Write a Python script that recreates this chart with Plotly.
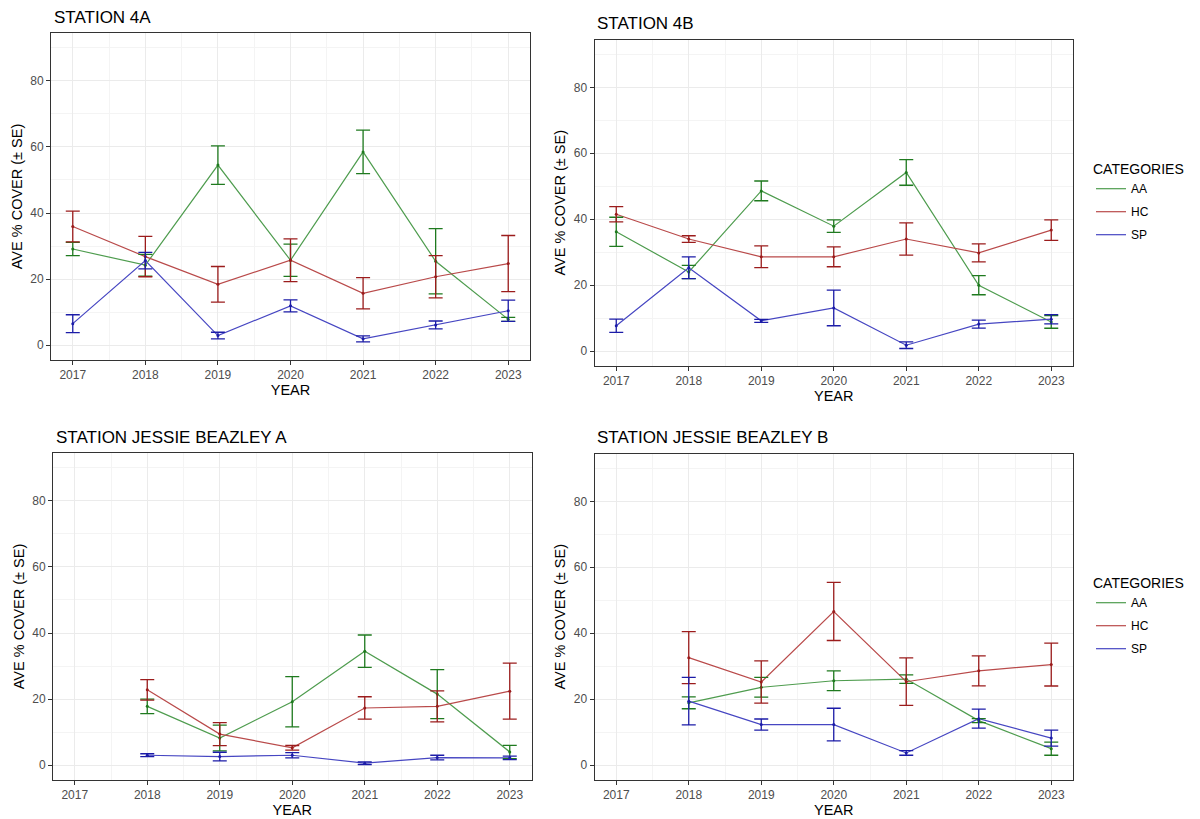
import plotly.graph_objects as go

# ---- data: mean % cover and standard error per category ----
years_4 = [2017, 2018, 2019, 2020, 2021, 2022, 2023]
years_jb = [2018, 2019, 2020, 2021, 2022, 2023]
categories = ["AA", "HC", "SP"]
station_titles = ["STATION 4A", "STATION 4B",
                  "STATION JESSIE BEAZLEY A", "STATION JESSIE BEAZLEY B"]

# Station 4A
aa_4a = [29.1, 24.2, 54.5, 25.7, 58.5, 25.4, 7.8]
aa_4a_se = [2.0, 3.3, 5.8, 4.9, 6.6, 9.9, 0.6]
hc_4a = [35.9, 26.8, 18.4, 25.7, 15.7, 20.7, 24.7]
hc_4a_se = [4.65, 6.1, 5.4, 6.5, 4.75, 6.4, 8.5]
sp_4a = [6.5, 25.6, 2.9, 11.9, 1.9, 6.1, 10.4]
sp_4a_se = [2.7, 2.5, 1.0, 1.8, 0.9, 1.2, 3.2]

# Station 4B
aa_4b = [36.2, 24.0, 48.6, 37.9, 54.2, 20.0, 8.85]
aa_4b_se = [4.4, 2.0, 3.0, 1.9, 3.9, 2.9, 1.9]
hc_4b = [41.5, 34.0, 28.6, 28.6, 34.0, 29.8, 36.7]
hc_4b_se = [2.3, 1.0, 3.3, 3.0, 4.9, 2.7, 3.1]
sp_4b = [7.7, 25.3, 9.2, 13.1, 1.8, 8.2, 9.7]
sp_4b_se = [2.0, 3.3, 0.45, 5.4, 1.0, 1.2, 1.4]

# Station Jessie Beazley A
aa_jba = [17.8, 8.2, 19.2, 34.5, 21.5, 4.0]
aa_jba_se = [2.2, 3.9, 7.6, 4.9, 7.4, 2.0]
hc_jba = [22.8, 9.4, 5.25, 17.3, 17.8, 22.4]
hc_jba_se = [3.1, 3.5, 0.7, 3.4, 4.7, 8.5]
sp_jba = [3.0, 2.6, 3.0, 0.6, 2.3, 2.2]
sp_jba_se = [0.45, 1.3, 0.8, 0.4, 0.7, 0.55]

# Station Jessie Beazley B
aa_jbb = [18.9, 23.6, 25.6, 26.1, 13.5, 5.0]
aa_jbb_se = [1.8, 3.0, 3.0, 1.3, 0.6, 2.0]
hc_jbb = [32.6, 25.2, 46.6, 25.3, 28.6, 30.5]
hc_jbb_se = [7.9, 6.4, 8.8, 7.2, 4.55, 6.5]
sp_jbb = [19.4, 12.3, 12.3, 3.7, 14.1, 8.2]
sp_jbb_se = [7.2, 1.7, 4.95, 0.7, 2.9, 2.4]

# ---- styling ----
FONT = "Liberation Sans, Arial, sans-serif"
line_colors = {"AA": "#4E9C4E", "HC": "#B94A4A", "SP": "#4646C2"}
err_colors = {"AA": "#1F7A1F", "HC": "#9B1C1C", "SP": "#1C1CA8"}

panels = [
    (years_4, [(aa_4a, aa_4a_se), (hc_4a, hc_4a_se), (sp_4a, sp_4a_se)], None),
    (years_4, [(aa_4b, aa_4b_se), (hc_4b, hc_4b_se), (sp_4b, sp_4b_se)], "legend"),
    (years_jb, [(aa_jba, aa_jba_se), (hc_jba, hc_jba_se), (sp_jba, sp_jba_se)], None),
    (years_jb, [(aa_jbb, aa_jbb_se), (hc_jbb, hc_jbb_se), (sp_jbb, sp_jbb_se)], "legend2"),
]

W, H = 1200, 819
# panel boxes in pixels: (left, right, top, bottom)
boxes = [
    (51, 530, 33, 360),
    (594.5, 1073, 39.5, 366),
    (53, 531.5, 453, 780),
    (594.5, 1073, 453.5, 780),
]

fig = go.Figure()
layout = {}

for i, ((years, series, legend_name), box) in enumerate(zip(panels, boxes)):
    n = i + 1
    xa = "x" if n == 1 else f"x{n}"
    ya = "y" if n == 1 else f"y{n}"
    for cat, (mean, se) in zip(categories, series):
        fig.add_trace(go.Scatter(
            x=years, y=mean, mode="lines", name=cat,
            line=dict(color=line_colors[cat], width=1.2),
            xaxis=xa, yaxis=ya,
            showlegend=legend_name is not None,
            legend=legend_name if legend_name else "legend",
            legendgroup=f"{cat}-{n}",
            hoverinfo="skip",
        ))
    for cat, (mean, se) in zip(categories, series):
        fig.add_trace(go.Scatter(
            x=years, y=mean, mode="markers", name=cat,
            marker=dict(color=err_colors[cat], size=3),
            error_y=dict(type="data", array=se, visible=True,
                         color=err_colors[cat], thickness=1.3, width=7),
            xaxis=xa, yaxis=ya, showlegend=False,
        ))

    l, r, t, b = box
    axis_common = dict(
        showline=True, mirror=True, linecolor="#333333", linewidth=1,
        ticks="outside", ticklen=4, tickcolor="#333333", tickwidth=1,
        tickfont=dict(family=FONT, size=12, color="#4D4D4D"),
        showgrid=True, gridcolor="#EBEBEB", gridwidth=1.1, zeroline=False,
    )
    layout["xaxis" if n == 1 else f"xaxis{n}"] = dict(
        axis_common,
        domain=[l / W, r / W], anchor=ya,
        range=[2016.7, 2023.3], tick0=2017, dtick=1,
        minor=dict(dtick=0.5, tick0=2016.5, showgrid=True,
                   gridcolor="#F4F4F4", gridwidth=0.7, ticks=""),
        title=dict(text="YEAR", standoff=2,
                   font=dict(family=FONT, size=14.5, color="#000000")),
    )
    layout["yaxis" if n == 1 else f"yaxis{n}"] = dict(
        axis_common,
        domain=[1 - b / H, 1 - t / H], anchor=xa,
        range=[-4.5, 94.5], tickvals=[0, 20, 40, 60, 80],
        minor=dict(dtick=10, tick0=0, showgrid=True,
                   gridcolor="#F4F4F4", gridwidth=0.7, ticks=""),
        title=dict(text="AVE % COVER (± SE)", standoff=4,
                   font=dict(family=FONT, size=14.5, color="#000000")),
    )

annotations = []
title_pos = [(52, 17), (594.5, 23.5), (53.5, 437), (594.5, 437)]
for text, (tx, ty) in zip(station_titles, title_pos):
    annotations.append(dict(
        text=text, x=tx / W, y=1 - ty / H, xref="paper", yref="paper",
        xanchor="left", yanchor="middle", showarrow=False,
        font=dict(family=FONT, size=17, color="#000000"),
    ))

legend_common = dict(
    xanchor="left", yanchor="top", bgcolor="rgba(0,0,0,0)",
    font=dict(family=FONT, size=12, color="#000000"),
    title=dict(text="CATEGORIES", font=dict(family=FONT, size=14, color="#000000")),
    itemwidth=30, tracegroupgap=4,
)

fig.update_layout(
    width=W, height=H,
    margin=dict(l=0, r=0, t=0, b=0),
    paper_bgcolor="white", plot_bgcolor="white",
    font=dict(family=FONT),
    annotations=annotations,
    legend=dict(legend_common, x=1091 / W, y=1 - 156 / H),
    legend2=dict(legend_common, x=1091 / W, y=1 - 570 / H),
    **layout,
)

fig.write_html("out.html")
